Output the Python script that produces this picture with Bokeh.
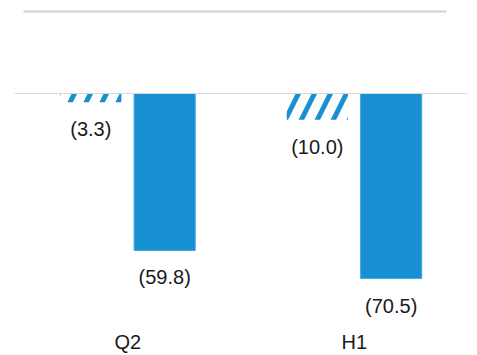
from bokeh.plotting import figure
from bokeh.models import ColumnDataSource, FactorRange, Span, BoxAnnotation
from bokeh.transform import dodge
from bokeh.core.properties import value
from bokeh.embed import file_html
from bokeh.resources import INLINE

categories = ["Q2", "H1"]
hatched_values = [-3.3, -10.0]
solid_values = [-59.8, -70.5]


def fmt(v):
    return "(%.1f)" % abs(v) if v < 0 else "%.1f" % v


src = ColumnDataSource(dict(
    cat=categories,
    hatched=hatched_values,
    solid=solid_values,
    hatched_lbl=[fmt(v) for v in hatched_values],
    solid_lbl=[fmt(v) for v in solid_values],
))

BLUE = "#1790D3"
FONT = "Liberation Sans"

p = figure(
    width=477, height=355,
    x_range=FactorRange(*categories, range_padding=0),
    y_range=(-88.38, 35.43),
    output_backend="svg", toolbar_location=None,
    min_border_left=14, min_border_right=10, min_border_top=0, min_border_bottom=0,
)
p.outline_line_color = None
p.background_fill_color = "white"
p.border_fill_color = "white"
p.xgrid.visible = False
p.ygrid.visible = False
p.yaxis.visible = False

ax = p.xaxis[0]
ax.axis_line_color = None
ax.major_tick_line_color = None
ax.minor_tick_line_color = None
ax.major_tick_out = 0
ax.major_tick_in = 0
ax.major_label_standoff = 5
ax.major_label_text_font = FONT
ax.major_label_text_font_size = "20px"
ax.major_label_text_color = "#1a1a1a"

# top decorative rule
p.add_layout(BoxAnnotation(left=0.04, right=1.907, bottom=30.9, top=31.6,
                           fill_color="#d2d2d6", fill_alpha=1, line_color=None))
# zero line
p.add_layout(Span(location=0, dimension="width", line_color="#d9d9d9", line_width=1))

W = 0.27
OFF = 0.163
p.vbar(x=dodge("cat", -OFF, range=p.x_range), top="hatched", bottom=0, width=W, source=src,
       fill_color="white", line_color=None, hatch_pattern="/", hatch_color=BLUE,
       hatch_scale=32, hatch_weight=5)
p.vbar(x=dodge("cat", OFF, range=p.x_range), top="solid", bottom=0, width=W, source=src,
       fill_color=BLUE, line_color="#4aa8e0", line_width=1)

p.text(x=dodge("cat", -OFF, range=p.x_range), y="hatched", text="hatched_lbl", source=src,
       y_offset=27, text_align="center", text_baseline="middle",
       text_font=value(FONT), text_font_size="20px", text_color="#1a1a1a")
p.text(x=dodge("cat", OFF, range=p.x_range), y="solid", text="solid_lbl", source=src,
       y_offset=27, text_align="center", text_baseline="middle",
       text_font=value(FONT), text_font_size="20px", text_color="#1a1a1a")

open("out.html", "w").write(file_html(p, INLINE))
